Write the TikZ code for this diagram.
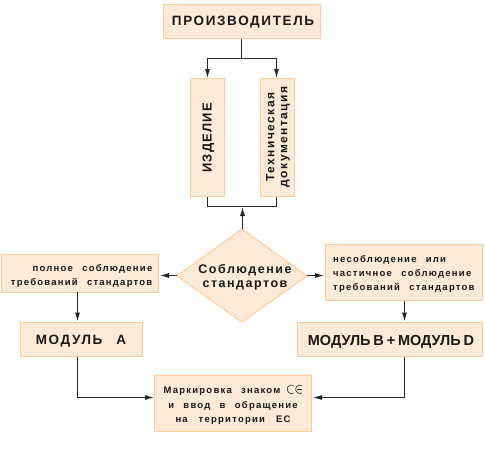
\documentclass[tikz,border=0pt]{standalone}
\usepackage{fontspec}
\setmainfont{Liberation Sans}[Ligatures=NoCommon]
\newfontfamily\lsA{Liberation Sans Bold}[LetterSpace=12,WordSpace=2]
\newfontfamily\lsI{Liberation Sans Bold}[LetterSpace=9]
\newfontfamily\lsB{Liberation Sans Bold}[LetterSpace=12,WordSpace=2]
\newfontfamily\lsC{Liberation Sans Bold}[LetterSpace=13,WordSpace=2.4]
\newfontfamily\lsD{Liberation Sans Bold}[WordSpace=0.7]
\usetikzlibrary{arrows.meta}
\definecolor{boxfill}{HTML}{FDEBD8}
\definecolor{boxline}{HTML}{FFCC99}
\tikzset{
 x=1pt,y=-1pt,
 shp/.style={fill=boxfill,draw=boxline,line width=1pt},
 lbl/.style={inner sep=0pt,align=center,text=black!90},
 conn/.style={draw=black!85,line width=1pt},
 arr/.style={conn,-{Latex[length=9pt,width=5pt]}},
}
\begin{document}
\begin{tikzpicture}
\useasboundingbox (0,0) rectangle (485,450);
\fill[white] (0,0) rectangle (485,450);
% boxes
\path[shp] (163.5,4.5) rectangle (320.5,38.5);
\path[shp] (190.5,78.5) rectangle (224.5,196.5);
\path[shp] (260.5,78.5) rectangle (294.5,196.5);
\path[shp] (242,229) -- (307,276) -- (242,322) -- (177,276) -- cycle;
\path[shp] (1.5,254) rectangle (158.5,292);
\path[shp] (325.5,244.5) rectangle (482.5,300.5);
\path[shp] (20.5,322.5) rectangle (142.5,356.5);
\path[shp] (297.5,322.5) rectangle (482.5,356.5);
\path[shp] (154.5,375.5) rectangle (311.5,431);
% text nodes
\node[lbl,font=\lsA\fontsize{13.5}{16}\selectfont] (prod) at (243,22.5) {ПРОИЗВОДИТЕЛЬ};
\node[lbl,rotate=90,font=\lsI\fontsize{13}{16}\selectfont] (izd) at (208.5,138) {ИЗДЕЛИЕ};
\node[lbl,rotate=90,font=\lsB\fontsize{12}{13}\selectfont] (tech) at (278,137) {Техническая\\документация};
\node[lbl,font=\lsB\fontsize{12.5}{14}\selectfont] (comp) at (245,277.5) {Соблюдение\\стандартов};
\node[lbl,align=right,font=\lsC\fontsize{9.5}{14}\selectfont,anchor=east] (full) at (152.5,275.5) {полное соблюдение\\требований стандартов};
\node[lbl,align=left,font=\lsC\fontsize{9.5}{14}\selectfont,anchor=west] (part) at (333,273.5) {несоблюдение или\\частичное соблюдение\\требований стандартов};
\node[lbl,font=\lsA\fontsize{13.5}{16}\selectfont] (ma) at (81,341.5) {МОДУЛЬ\hspace{14pt}А};
\node[lbl,font=\lsD\fontsize{14.5}{16}\selectfont] (mbd) at (391,341.5) {МОДУЛЬ В + МОДУЛЬ D};
\node[lbl,font=\lsC\fontsize{9.5}{14.3}\selectfont] (mark) at (233,406) {Маркировка знаком\hbox to 22pt{}\\и\hspace{9.3pt}ввод\hspace{9.3pt}в\hspace{9.3pt}обращение\\на\hspace{11pt}территории\hspace{11pt}ЕС};
% CE mark
\draw[black!85,line width=0.6pt] (293.5,385.5) arc (60:300:4.3pt);
\draw[black!85,line width=0.6pt] (302,385.5) arc (60:300:4.3pt);
\draw[black!85,line width=0.6pt] (296.5,389.2) -- (301.5,389.2);
% connector points
\coordinate (pb) at (241.5,38.5);
\coordinate (pj) at (241.5,58);
\coordinate (pl) at (207.5,58);
\coordinate (pr) at (276.5,58);
\coordinate (il) at (207.5,78);
\coordinate (tr) at (276.5,78);
\coordinate (ib) at (207.5,197);
\coordinate (tb) at (276.5,197);
\coordinate (jl) at (207.5,206.5);
\coordinate (jr) at (276.5,206.5);
\coordinate (dt) at (242.5,229);
\coordinate (jm) at (242.5,207);
\coordinate (dl) at (177,275.5);
\coordinate (fr) at (160,275.5);
\coordinate (dr) at (307,275.5);
\coordinate (pa) at (324,275.5);
\coordinate (fb) at (77.5,292);
\coordinate (mat) at (77.5,321.5);
\coordinate (pab) at (404.5,300.5);
\coordinate (mbt) at (404.5,321.5);
\coordinate (mab) at (77.5,356.5);
\coordinate (mbb) at (404.5,356.5);
\coordinate (ml) at (154,397.5);
\coordinate (mr) at (313,397.5);
\draw[conn] (pb) -- (pj);
\draw[arr] (pj) -- (pl) -- (il);
\draw[arr] (pj) -- (pr) -- (tr);
\draw[conn] (ib) -- (jl) -- (jr) -- (tb);
\draw[arr] (dt) -- (jm);
\draw[arr] (dl) -- (fr);
\draw[arr] (dr) -- (pa);
\draw[arr] (fb) -- (mat);
\draw[arr] (pab) -- (mbt);
\draw[arr] (mab) |- (ml);
\draw[arr] (mbb) |- (mr);
\end{tikzpicture}
\end{document}
